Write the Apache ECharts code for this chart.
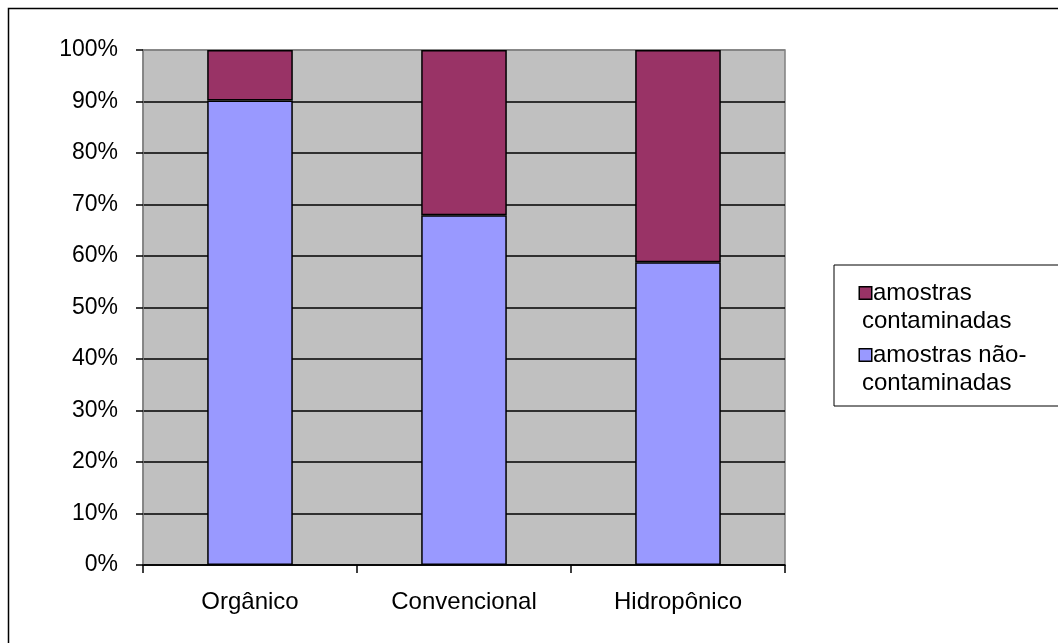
<!DOCTYPE html>
<html>
<head>
<meta charset="utf-8">
<script src="https://cdn.jsdelivr.net/npm/echarts@6/dist/echarts.min.js"></script>
<style>
html,body{margin:0;padding:0;background:#fff;}
#c{width:1058px;height:643px;}
</style>
</head>
<body>
<div id="c"></div>
<script>
var categories = ['Orgânico', 'Convencional', 'Hidropônico'];
var naoContaminadas = [90.2, 67.9, 58.8];
var contaminadas = [9.8, 32.1, 41.2];
var yTicks = [0, 10, 20, 30, 40, 50, 60, 70, 80, 90, 100];
var seriesNames = ['amostras não-contaminadas', 'amostras contaminadas'];
var colors = ['#9999FF', '#993366'];

var FONT = '"Liberation Sans", Arial, sans-serif';
var chart = echarts.init(document.getElementById('c'), null, {renderer: 'canvas'});

var splitColors = yTicks.map(function (t, i) { return i === yTicks.length - 1 ? '#808080' : '#000000'; });

var option = {
  animation: false,
  backgroundColor: '#ffffff',
  textStyle: {fontFamily: FONT, color: '#000'},
  graphic: [{
    type: 'rect', z: -10, silent: true,
    shape: {x: 8.5, y: 8.5, width: 1120, height: 700},
    style: {fill: 'none', stroke: '#000', lineWidth: 1.5}
  }],
  grid: {
    left: 143, right: 273, top: 50, bottom: 78,
    show: true, backgroundColor: '#C0C0C0', borderColor: '#808080', borderWidth: 1.5
  },
  legend: {
    orient: 'vertical',
    left: 834, top: 265,
    padding: [16, 90, 11, 21],
    itemGap: 10,
    itemWidth: 0, itemHeight: 0,
    itemStyle: {opacity: 0, borderWidth: 0},
    backgroundColor: '#fff',
    borderColor: '#000', borderWidth: 1,
    selectedMode: false,
    data: [seriesNames[1], seriesNames[0]],
    formatter: function (name) {
      var idx = seriesNames.indexOf(name);
      var parts = idx === 1 ? ['amostras', 'contaminadas'] : ['amostras não-', 'contaminadas'];
      var sq = idx === 1 ? 'sqA' : 'sqB';
      return '{' + sq + '| }{g| }{t|' + parts[0] + '}\n{t2|' + parts[1] + '}';
    },
    textStyle: {
      fontFamily: FONT, color: '#000', fontSize: 24,
      rich: {
        sqA: {width: 11, height: 11, backgroundColor: colors[1], borderColor: '#000', borderWidth: 1.5},
        sqB: {width: 11, height: 11, backgroundColor: colors[0], borderColor: '#000', borderWidth: 1.5},
        g: {width: 2, fontSize: 24, lineHeight: 28},
        t: {fontSize: 24, lineHeight: 28, fontFamily: FONT, color: '#000'},
        t2: {fontSize: 24, lineHeight: 28, fontFamily: FONT, color: '#000', padding: [0, 0, 0, 2]}
      }
    }
  },
  xAxis: {
    type: 'category',
    data: categories,
    axisLine: {show: true, lineStyle: {color: '#000', width: 1.5}},
    axisTick: {show: true, alignWithLabel: false, length: 8, lineStyle: {color: '#000', width: 1.5}},
    axisLabel: {fontSize: 24, color: '#000', fontFamily: FONT, margin: 25},
    splitLine: {show: false}
  },
  yAxis: {
    type: 'value',
    min: 0, max: 100, interval: 10,
    axisLine: {show: true, lineStyle: {color: '#808080', width: 1.5}},
    axisTick: {show: true, length: 7, lineStyle: {color: '#000', width: 1.5}},
    axisLabel: {fontSize: 23, color: '#000', fontFamily: FONT, margin: 25,
      formatter: function (v) { return v + '%'; }},
    splitLine: {show: true, lineStyle: {color: splitColors, width: 1.5}}
  },
  series: [
    {
      name: seriesNames[0], type: 'bar', stack: 'total', barWidth: '40%',
      data: naoContaminadas,
      itemStyle: {color: colors[0], borderColor: '#000', borderWidth: 1.5}
    },
    {
      name: seriesNames[1], type: 'bar', stack: 'total', barWidth: '40%',
      data: contaminadas,
      itemStyle: {color: colors[1], borderColor: '#000', borderWidth: 1.5}
    }
  ]
};
chart.setOption(option);
</script>
</body>
</html>
